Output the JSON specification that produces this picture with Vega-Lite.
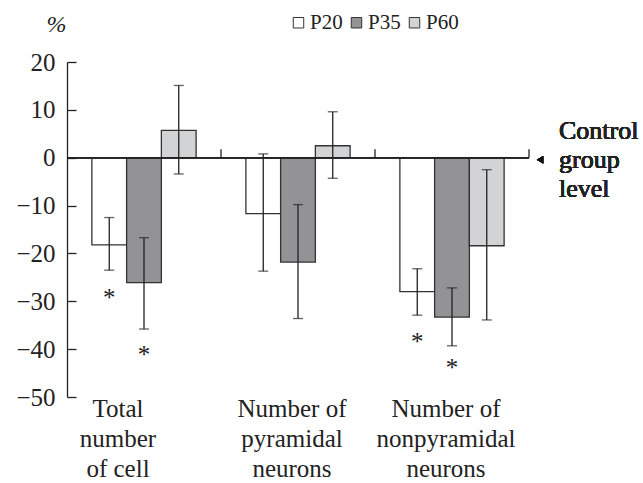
{
  "$schema": "https://vega.github.io/schema/vega-lite/v6.json",
  "width": 462,
  "height": 335,
  "autosize": "none",
  "padding": {"left": 67, "top": 62, "right": 114, "bottom": 86},
  "background": "white",
  "config": {"view": {"stroke": null}, "font": "Liberation Serif"},
  "datasets": {
    "bars": [
      {"group": "Total number of cell", "age": "P20", "value": -18.2, "lo": -23.5, "hi": -12.5},
      {"group": "Total number of cell", "age": "P35", "value": -26.1, "lo": -35.8, "hi": -16.7},
      {"group": "Total number of cell", "age": "P60", "value": 5.7, "lo": -3.4, "hi": 15.1},
      {"group": "Number of pyramidal neurons", "age": "P20", "value": -11.7, "lo": -23.7, "hi": 0.8},
      {"group": "Number of pyramidal neurons", "age": "P35", "value": -21.8, "lo": -33.6, "hi": -9.8},
      {"group": "Number of pyramidal neurons", "age": "P60", "value": 2.5, "lo": -4.3, "hi": 9.6},
      {"group": "Number of nonpyramidal neurons", "age": "P20", "value": -28.0, "lo": -32.9, "hi": -23.2},
      {"group": "Number of nonpyramidal neurons", "age": "P35", "value": -33.3, "lo": -39.3, "hi": -27.2},
      {"group": "Number of nonpyramidal neurons", "age": "P60", "value": -18.4, "lo": -33.9, "hi": -2.5}
    ],
    "stars": [
      {"group": "Total number of cell", "age": "P20", "value": -28.7},
      {"group": "Total number of cell", "age": "P35", "value": -40.6},
      {"group": "Number of nonpyramidal neurons", "age": "P20", "value": -37.8},
      {"group": "Number of nonpyramidal neurons", "age": "P35", "value": -43.4}
    ]
  },
  "data": {"name": "bars"},
  "encoding": {
    "x": {
      "field": "group",
      "type": "nominal",
      "sort": ["Total number of cell", "Number of pyramidal neurons", "Number of nonpyramidal neurons"],
      "scale": {"paddingInner": 0, "paddingOuter": 0},
      "axis": {
        "title": null,
        "orient": "bottom",
        "domain": false,
        "ticks": false,
        "labelAngle": 0,
        "labelFont": "Liberation Serif",
        "labelFontSize": 25,
        "labelColor": "#222",
        "labelLineHeight": 30,
        "labelPadding": -1,
        "labelBaseline": "top",
        "labelExpr": "datum.value == 'Total number of cell' ? ['Total','number','of cell'] : datum.value == 'Number of pyramidal neurons' ? ['Number of','pyramidal','neurons'] : ['Number of','nonpyramidal','neurons']",
        "labelOffset": {"condition": {"test": "datum.value == 'Total number of cell'", "value": -26}, "value": -6}
      }
    },
    "y": {
      "type": "quantitative",
      "scale": {"domain": [-50, 20], "nice": false, "zero": false},
      "axis": {
        "values": [-50, -40, -30, -20, -10, 0, 10, 20],
        "title": "%",
        "titleAngle": 0,
        "titleX": -11,
        "titleY": -38,
        "titleAlign": "center",
        "titleBaseline": "middle",
        "titleFont": "Liberation Serif",
        "titleFontStyle": "italic",
        "titleFontWeight": "normal",
        "titleFontSize": 24,
        "titleColor": "#222",
        "grid": false,
        "tickSize": -9,
        "labelPadding": 21,
        "labelFont": "Liberation Serif",
        "labelFontSize": 25,
        "labelColor": "#222",
        "domainColor": "#222",
        "tickColor": "#222",
        "domainWidth": 1.3,
        "tickWidth": 1.3
      }
    }
  },
  "layer": [
    {
      "mark": {"type": "bar", "stroke": "#333", "strokeWidth": 1.3},
      "encoding": {
        "xOffset": {"field": "age", "type": "nominal", "scale": {"paddingInner": 0, "paddingOuter": 0.716}},
        "y": {"field": "value", "type": "quantitative"},
        "y2": {"datum": 0},
        "color": {
          "field": "age",
          "type": "nominal",
          "scale": {"domain": ["P20", "P35", "P60"], "range": ["#ffffff", "#939396", "#d2d3d5"]},
          "legend": {
            "title": null,
            "orient": "none",
            "legendX": 221,
            "legendY": -50,
            "direction": "horizontal",
            "symbolType": "square",
            "symbolSize": 110,
            "symbolStrokeColor": "#333",
            "symbolStrokeWidth": 1,
            "symbolOpacity": 1,
            "labelFont": "Liberation Serif",
            "labelFontSize": 21,
            "labelColor": "#222",
            "labelOffset": 1,
            "columnPadding": 3
          }
        }
      }
    },
    {
      "mark": {"type": "rule", "color": "#222", "strokeWidth": 1.3},
      "encoding": {"x": null, "y": {"datum": 0}}
    },
    {
      "transform": [{"filter": "datum.age == 'P20'"}],
      "mark": {"type": "rule", "color": "#222", "strokeWidth": 1.3},
      "encoding": {
        "x": {"field": "group", "type": "nominal", "bandPosition": 1, "sort": ["Total number of cell", "Number of pyramidal neurons", "Number of nonpyramidal neurons"]},
        "y": {"datum": 0},
        "y2": {"datum": 1.75}
      }
    },
    {
      "mark": {"type": "rule", "color": "#222", "strokeWidth": 1.3},
      "encoding": {
        "xOffset": {"field": "age", "type": "nominal"},
        "y": {"field": "lo", "type": "quantitative"},
        "y2": {"field": "hi"}
      }
    },
    {
      "mark": {"type": "tick", "color": "#222", "size": 10, "thickness": 1.3},
      "encoding": {
        "xOffset": {"field": "age", "type": "nominal"},
        "y": {"field": "lo", "type": "quantitative"}
      }
    },
    {
      "mark": {"type": "tick", "color": "#222", "size": 10, "thickness": 1.3},
      "encoding": {
        "xOffset": {"field": "age", "type": "nominal"},
        "y": {"field": "hi", "type": "quantitative"}
      }
    },
    {
      "data": {"name": "stars"},
      "mark": {"type": "text", "text": "*", "font": "Liberation Serif", "fontSize": 25, "color": "#222", "baseline": "middle", "align": "center", "dy": 3},
      "encoding": {
        "xOffset": {"field": "age", "type": "nominal"},
        "y": {"field": "value", "type": "quantitative"}
      }
    },
    {
      "mark": {"type": "point", "shape": "triangle-left", "filled": true, "color": "#111", "size": 55, "opacity": 1, "xOffset": 11, "yOffset": 2},
      "encoding": {
        "x": {"datum": "Number of nonpyramidal neurons", "bandPosition": 1},
        "y": {"datum": 0}
      }
    },
    {
      "mark": {"type": "text", "text": ["Control", "group", "level"], "font": "Liberation Serif", "fontSize": 26, "fontWeight": "normal", "lineHeight": 29, "color": "#222", "align": "left", "baseline": "middle", "dx": 30, "dy": -27},
      "encoding": {
        "x": {"datum": "Number of nonpyramidal neurons", "bandPosition": 1},
        "y": {"datum": 0}
      }
    }
  ]
}
